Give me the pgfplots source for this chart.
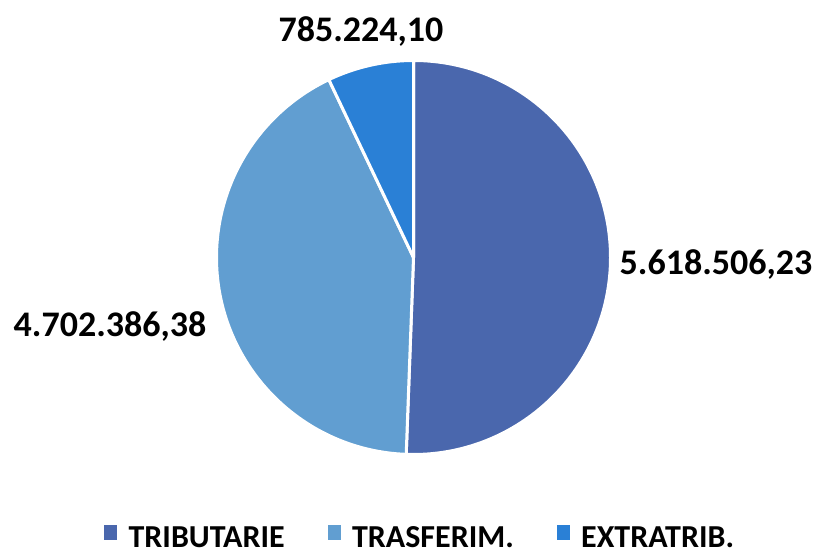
\documentclass[border=0pt]{standalone}
\usepackage{pgfplots}
\pgfplotsset{compat=1.18}
\usepackage{fontspec}
\setmainfont{Carlito}
\definecolor{cA}{RGB}{74,103,173}
\definecolor{cB}{RGB}{97,158,209}
\definecolor{cC}{RGB}{42,128,214}
% data values
\def\vA{5618506.23}
\def\vB{4702386.38}
\def\vC{785224.10}
\edef\tot{\fpeval{\vA+\vB+\vC}}
\edef\aA{\fpeval{90-360*\vA/\tot}}
\edef\aB{\fpeval{\aA-360*\vB/\tot}}
\edef\aC{\fpeval{\aB-360*\vC/\tot}}
\begin{document}
\begin{tikzpicture}
\useasboundingbox (0,0) rectangle (822pt,555pt);
\clip (0,0) rectangle (822pt,555pt);
\begin{axis}[
  width=822pt, height=555pt, scale only axis,
  xmin=0, xmax=822, ymin=0, ymax=555,
  hide axis, clip=false,
  legend columns=3,
  legend style={draw=none, fill=none, at={(axis cs:104,31)}, anchor=north west, inner sep=0pt,
    font=\bfseries\fontsize{32}{34}\selectfont,
    /tikz/every odd column/.append style={column sep=10pt},
    /tikz/every even column/.append style={column sep=41pt}},
  legend image code/.code={\fill[#1] (0pt,-2pt) rectangle (12pt,12pt);},
]
\addlegendimage{cA}
\addlegendimage{cB}
\addlegendimage{cC}
\legend{TRIBUTARIE, TRASFERIM., EXTRATRIB.}
\filldraw[fill=cA, draw=white, line width=3pt, line join=round]
  (axis cs:413.5,297.5) -- ++(90:197pt) arc[start angle=90, end angle=\aA, radius=197pt] -- cycle;
\filldraw[fill=cB, draw=white, line width=3pt, line join=round]
  (axis cs:413.5,297.5) -- ++(\aA:197pt) arc[start angle=\aA, end angle=\aB, radius=197pt] -- cycle;
\filldraw[fill=cC, draw=white, line width=3pt, line join=round]
  (axis cs:413.5,297.5) -- ++(\aB:197pt) arc[start angle=\aB, end angle=\aC, radius=197pt] -- cycle;
\node[anchor=base, font=\bfseries\fontsize{36}{40}\selectfont] at (axis cs:361,513) {785.224,10};
\node[anchor=base, font=\bfseries\fontsize{36}{40}\selectfont] at (axis cs:716,280) {5.618.506,23};
\node[anchor=base, font=\bfseries\fontsize{36}{40}\selectfont] at (axis cs:110,218) {4.702.386,38};
\end{axis}
\end{tikzpicture}
\end{document}
